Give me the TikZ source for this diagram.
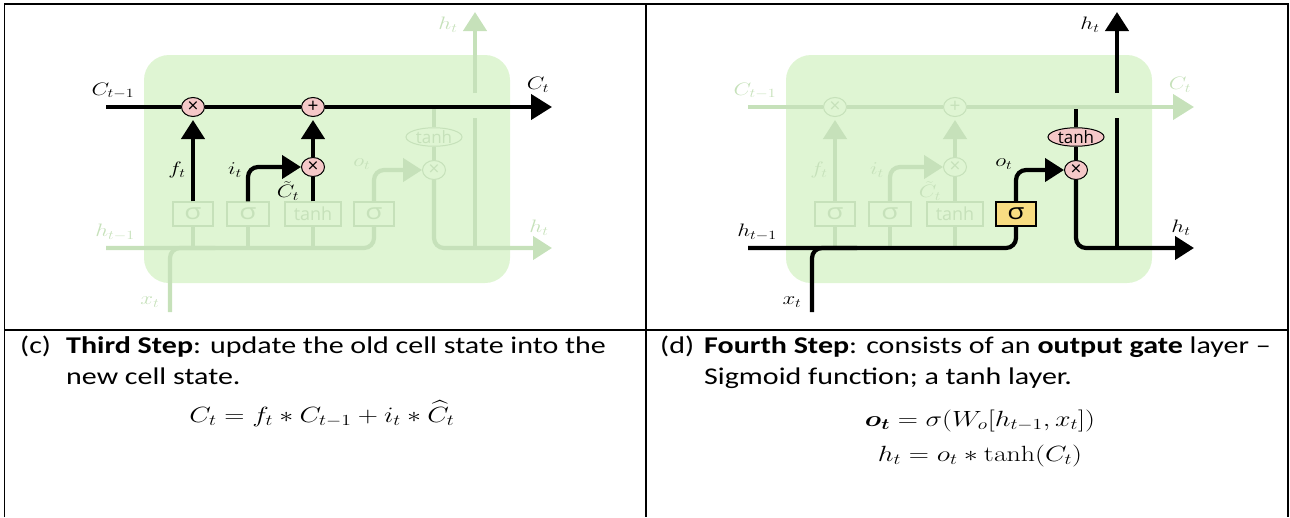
\RequirePackage{fix-cm}
\documentclass[tikz,border=0pt]{standalone}
\usepackage[no-math]{fontspec}
\setmainfont{Carlito}[FakeStretch=1.25]
\newfontfamily\fuentediag{Open Sans}
\usepackage{amsmath, amssymb, bm}
\usepackage{graphicx}
\usepackage{tikz}
\usetikzlibrary{arrows.meta, shapes.geometric}

\definecolor{fondo}{RGB}{223,245,211}
\definecolor{tenue}{RGB}{198,225,186}
\definecolor{rosa}{RGB}{245,200,200}
\definecolor{amarillo}{RGB}{248,221,130}

% Texto ensanchado como en la figura
\newcommand{\ancho}[1]{\scalebox{1.27}[1]{#1}}

\tikzset{
	linea/.style={line width=4.2pt},
	punta/.style={-{Triangle[length=19pt,width=23pt]}},
	puntag/.style={-{Triangle[length=21pt,width=25pt]}},
	opnodo/.style={ellipse, line width=1pt, minimum width=23pt, minimum height=19pt, inner sep=0pt, font=\fuentediag\fontsize{19}{19}\selectfont},
	compuerta/.style={rectangle, line width=1.2pt, minimum height=24pt, inner sep=0pt, font=\fuentediag\fontsize{18}{18}\selectfont},
	etiq/.style={inner sep=0pt, font=\fontsize{18}{18}\selectfont},
	texto/.style={anchor=base west, inner sep=0pt, font=\fontsize{24}{28}\selectfont},
	ecuacion/.style={inner sep=0pt, font=\fontsize{22}{26}\selectfont}
}

% Celda LSTM (colores segun el paso)
\newcommand{\celdaLSTM}{%
	% Caja
	\fill[fondo, rounded corners=25pt] (144,55) rectangle (510,283);
	% Compuertas
	\node[compuerta, draw=tenue, text=tenue, minimum width=40pt, font=\fuentediag\fontsize{22}{22}\selectfont] (gf) at (193,214) {\ancho{σ}};
	\node[compuerta, draw=tenue, text=tenue, minimum width=42pt, font=\fuentediag\fontsize{22}{22}\selectfont] (gi) at (248,214) {\ancho{σ}};
	\node[compuerta, draw=tenue, text=tenue, minimum width=56pt] (gc) at (313,214) {tanh};
	\node[compuerta, draw=lineaD, fill=compD, text=lineaD, minimum width=40pt, font=\fuentediag\fontsize{22}{22}\selectfont] (go) at (374,214) {\ancho{σ}};
	% Operaciones
	\node[opnodo, draw=lineaC, fill=rellenoC, text=lineaC] (mf) at (193,107) {×};
	\node[opnodo, draw=lineaC, fill=rellenoC, text=lineaC] (sc) at (313,107) {+};
	\node[opnodo, draw=lineaC, fill=rellenoC, text=lineaC] (mi) at (313,167) {×};
	\node[opnodo, draw=lineaD, fill=rellenoD, text=lineaD] (mo) at (434,170) {×};
	\node[opnodo, draw=lineaD, fill=rellenoD, text=lineaD, minimum width=56pt, minimum height=17pt, font=\fuentediag\fontsize{17}{17}\selectfont] (th) at (434,137) {tanh};
	% Puntos de entrada y salida
	\coordinate (cin) at (106,107);
	\coordinate (cout) at (552,107);
	\coordinate (ctap) at (434,109);
	\coordinate (hin) at (106,248);
	\coordinate (hsal) at (552,248);
	\coordinate (xin) at (170,312);
	\coordinate (xjoin) at (215,248);
	\coordinate (ha) at (475,248);
	\coordinate (hb) at (475,118);
	\coordinate (hc) at (475,93);
	\coordinate (htop) at (475,12);
	% Subidas tenues a las compuertas
	\foreach \g in {gf,gi,gc}
		{
			\draw[linea, tenue] (\g.south) -- ++(0,21);
		}
	% Estado de la celda
	\draw[linea, lineaC] (cin) -- (mf);
	\draw[linea, lineaC] (mf) -- (sc);
	\draw[linea, lineaC, puntag] (sc) -- (cout);
	\draw[linea, lineaC, punta, shorten >=3pt] (gf) -- (mf);
	\draw[linea, lineaC, punta, rounded corners=10pt] (gi.north) |- (mi);
	\draw[linea, lineaC] (gc) -- (mi);
	\draw[linea, lineaC, punta, shorten >=3pt] (mi) -- (sc);
	% Salida
	\draw[linea, lineaD, rounded corners=10pt] (hin) -| (go.south);
	\draw[linea, lineaD, rounded corners=10pt] (xin) |- (xjoin);
	\draw[linea, lineaD, punta, rounded corners=10pt] (go.north) |- (mo);
	\draw[linea, lineaD] (ctap) -- (th);
	\draw[linea, lineaD] (th) -- (mo);
	\draw[linea, lineaD, punta, rounded corners=10pt] (mo) |- (hsal);
	\draw[linea, lineaD] (ha) -- (hb);
	\draw[linea, lineaD, punta] (hc) -- (htop);
	% Etiquetas
	\node[etiq, text=lineaC] (lcin) at (113,91) {\ancho{$C_{t-1}$}};
	\node[etiq, text=lineaC] (lcout) at (538,85) {\ancho{$C_t$}};
	\node[etiq, text=lineaC] (lf) at (177,170) {\ancho{$f_t$}};
	\node[etiq, text=lineaC] (li) at (235,170) {\ancho{$i_t$}};
	\node[etiq, text=lineaC] (lct) at (288,191) {\ancho{$\tilde{C}_t$}};
	\node[etiq, text=lineaD] (lo) at (362,164) {\ancho{$o_t$}};
	\node[etiq, text=lineaD] (lhin) at (115,232) {\ancho{$h_{t-1}$}};
	\node[etiq, text=lineaD] (lhout) at (539,228) {\ancho{$h_t$}};
	\node[etiq, text=lineaD] (lhtop) at (448,25) {\ancho{$h_t$}};
	\node[etiq, text=lineaD] (lx) at (150,302) {\ancho{$x_t$}};
}

\begin{document}
\begin{tikzpicture}[x=1pt, y=-1pt]
	\useasboundingbox (0,0) rectangle (1290,517);

	% Tabla
	\draw[line width=1.8pt] (4.5,517) -- (4.5,4) -- (1288,4) -- (1288,517);
	\draw[line width=1.5pt] (646,4) -- (646,517);
	\draw[line width=1.5pt] (4.5,330) -- (1288,330);

	% Paso (c)
	\begin{scope}[name prefix=c-]
		\colorlet{lineaC}{black}
		\colorlet{lineaD}{tenue}
		\colorlet{rellenoC}{rosa}
		\colorlet{rellenoD}{fondo}
		\colorlet{compD}{fondo}
		\celdaLSTM
	\end{scope}

	% Paso (d)
	\begin{scope}[xshift=642, name prefix=d-]
		\colorlet{lineaC}{tenue}
		\colorlet{lineaD}{black}
		\colorlet{rellenoC}{fondo}
		\colorlet{rellenoD}{rosa}
		\colorlet{compD}{amarillo}
		\celdaLSTM
	\end{scope}

	% Textos
	\node[texto] (pc) at (20,353) {(c)};
	\node[texto] (tc1) at (66,353) {\textbf{Third Step}: update the old cell state into the};
	\node[texto] (tc2) at (66,384) {new cell state.};
	\node[ecuacion] (ec) at (322,414) {\ancho{$C_t = f_t * C_{t-1} + i_t * \widehat{C}_t$}};

	\node[texto] (pd) at (660,353) {(d)};
	\node[texto] (td1) at (704,353) {\textbf{Fourth Step}: consists of an \textbf{output gate} layer –};
	\node[texto] (td2) at (704,384) {Sigmoid function; a tanh layer.};
	\node[ecuacion] (ed1) at (980,421) {\ancho{$\boldsymbol{o_t} = \sigma(W_o[h_{t-1}, x_t])$}};
	\node[ecuacion] (ed2) at (980,456) {\ancho{$h_t = o_t * \tanh(C_t)$}};
\end{tikzpicture}
\end{document}
